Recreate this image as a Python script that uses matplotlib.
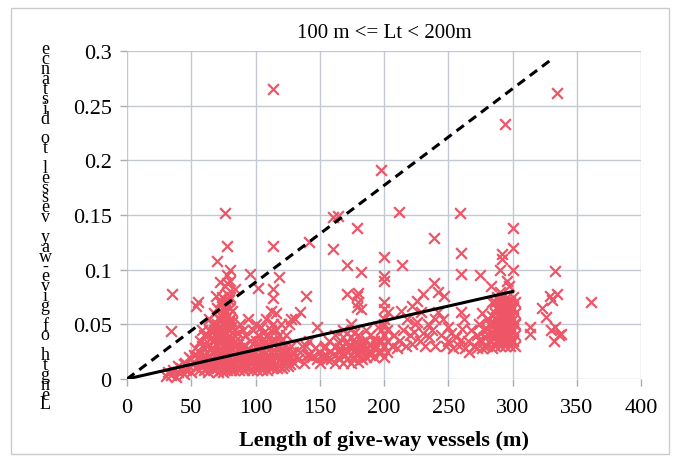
import matplotlib
matplotlib.use("Agg")
import matplotlib.pyplot as plt
import numpy as np

# ratio vs give-way vessel length (m), grouped by length band
band_short = [(30,0.003),(32,0.006),(34,0.004),(36,0.008),(38,0.002),(40,0.006),(42,0.01),(44,0.005),
              (46,0.008),(48,0.012),(50,0.006),(52,0.015),(54,0.01),(55,0.02),(56,0.025),(57,0.013),
              (58,0.03),(59,0.018),(60,0.022),(53,0.028),(57,0.035),(55,0.07),(35,0.078),(34,0.044),
              (48,0.02),(45,0.015),(60,0.04),(58,0.045),(54,0.067),(40,0.012),(44,0.014),(50,0.018),
              (52,0.022),(56,0.008),(58,0.012),(60,0.008),(60,0.015)]

band_60_95 = [(62,0.01),(62,0.02),(62,0.03),(62,0.04),
              (64,0.012),(64,0.022),(64,0.032),(64,0.045),(64,0.055),
              (66,0.01),(66,0.018),(66,0.028),(66,0.038),(66,0.05),
              (68,0.015),(68,0.025),(68,0.035),(68,0.045),(68,0.06),
              (70,0.01),(70,0.02),(70,0.03),(70,0.04),(70,0.05),(70,0.065),
              (72,0.014),(72,0.024),(72,0.034),(72,0.044),(72,0.054),(72,0.07),
              (74,0.01),(74,0.02),(74,0.03),(74,0.04),(74,0.05),(74,0.06),(74,0.075),
              (76,0.012),(76,0.022),(76,0.032),(76,0.042),(76,0.052),(76,0.062),(76,0.072),(76,0.085),
              (78,0.008),(78,0.018),(78,0.028),(78,0.038),(78,0.048),(78,0.058),(78,0.068),(78,0.078),
              (78,0.088),(78,0.095),
              (80,0.015),(80,0.025),(80,0.035),(80,0.045),(80,0.055),(80,0.065),(80,0.075),(80,0.09),(80,0.1),
              (82,0.012),(82,0.022),(82,0.032),(82,0.042),(82,0.052),(82,0.062),
              (84,0.015),(84,0.025),(84,0.035),(84,0.045),(84,0.082),
              (86,0.012),(86,0.022),(86,0.032),(86,0.042),
              (88,0.015),(88,0.025),(88,0.035),(88,0.05),
              (90,0.012),(90,0.02),(90,0.03),(90,0.045),
              (92,0.015),(92,0.025),(92,0.04),
              (94,0.018),(94,0.028),(94,0.055),
              (70,0.108),(72,0.089),(76,0.152),(78,0.122),(69,0.076),
              (63,0.006),(65,0.016),(67,0.024),(69,0.012),(69,0.032),(71,0.006),(71,0.026),(71,0.046),
              (73,0.008),(73,0.018),(73,0.038),(73,0.058),(75,0.006),(75,0.026),(75,0.046),(75,0.066),
              (77,0.016),(77,0.036),(77,0.056),(79,0.012),(79,0.032),(79,0.052),(79,0.072),
              (81,0.008),(81,0.028),(81,0.048),(83,0.008),(83,0.02),(83,0.04),(85,0.018),(85,0.03),
              (87,0.008),(87,0.028),(89,0.01),(89,0.022),(91,0.008),(91,0.018),(93,0.01),(93,0.022)]

band_95_160 = [(96,0.015),(96,0.025),(96,0.035),(96,0.096),
               (98,0.012),(98,0.022),(98,0.032),(98,0.045),
               (100,0.015),(100,0.025),(100,0.035),(100,0.05),
               (102,0.012),(102,0.02),(102,0.03),(102,0.04),(102,0.083),
               (104,0.015),(104,0.025),(104,0.035),(104,0.048),
               (106,0.012),(106,0.022),(106,0.032),(106,0.042),
               (108,0.015),(108,0.025),(108,0.035),(108,0.055),
               (110,0.012),(110,0.02),(110,0.03),(110,0.04),
               (112,0.015),(112,0.025),(112,0.035),(112,0.045),(112,0.062),
               (114,0.012),(114,0.022),(114,0.032),(114,0.05),(114,0.074),(114,0.082),(114,0.122),(114,0.265),
               (116,0.015),(116,0.025),(116,0.035),(116,0.045),(116,0.06),
               (118,0.012),(118,0.022),(118,0.03),(118,0.04),(118,0.093),
               (120,0.015),(120,0.025),(120,0.035),(120,0.05),
               (122,0.012),(122,0.02),(122,0.03),
               (124,0.015),(124,0.025),(124,0.04),
               (126,0.018),(126,0.028),(126,0.05),
               (128,0.02),(128,0.03),(128,0.055),
               (97,0.008),(99,0.018),(101,0.008),(103,0.018),(105,0.008),(107,0.018),(109,0.008),
               (111,0.018),(113,0.01),(115,0.02),(117,0.01),(119,0.018),(121,0.01),(123,0.018),
               (125,0.012),(127,0.014),(129,0.025),(130,0.015),
               (131,0.02),(131,0.055),(135,0.061),(135,0.025),(139,0.076),(139,0.03),(142,0.125),(142,0.022),
               (133,0.018),(136,0.03),(138,0.015),(140,0.022),(142,0.035),(144,0.02),(146,0.028),(148,0.048),
               (148,0.018),(150,0.025),(152,0.02),(154,0.03),(156,0.018),(158,0.025),(157,0.035),
               (150,0.015),(153,0.028),(155,0.022),(159,0.018),
               (160,0.148),(164,0.149),(160,0.119)]

band_160_240 = [(162,0.015),(162,0.022),(162,0.03),(162,0.04),
                (165,0.018),(165,0.025),(165,0.033),
                (168,0.015),(168,0.022),(168,0.03),(168,0.038),(168,0.045),
                (171,0.018),(171,0.026),(171,0.034),(171,0.042),(171,0.078),(171,0.104),
                (174,0.015),(174,0.022),(174,0.03),(174,0.038),(174,0.05),
                (177,0.018),(177,0.025),(177,0.033),(177,0.042),
                (179,0.076),(179,0.066),(179,0.138),(182,0.098),
                (180,0.016),(180,0.024),(180,0.032),(180,0.04),(180,0.07),(180,0.079),(182,0.064),
                (183,0.018),(183,0.026),(183,0.034),
                (186,0.02),(186,0.028),(186,0.036),(186,0.045),
                (189,0.022),(189,0.03),(189,0.04),
                (192,0.02),(192,0.028),(192,0.035),
                (195,0.025),(195,0.035),(195,0.048),
                (164,0.02),(166,0.028),(170,0.022),(172,0.03),(176,0.02),(178,0.028),(181,0.02),
                (184,0.03),(188,0.026),(191,0.024),(194,0.03),
                (198,0.025),(198,0.035),(198,0.045),(198,0.191),
                (200,0.02),(200,0.03),(200,0.04),(200,0.05),(200,0.055),(200,0.064),(200,0.07),
                (200,0.09),(200,0.094),(200,0.112),
                (202,0.025),(202,0.035),(202,0.045),(203,0.061),
                (206,0.03),(208,0.04),(210,0.028),(212,0.035),(212,0.153),(213,0.062),(214,0.104),
                (215,0.045),(217,0.03),(218,0.055),(220,0.04),(222,0.067),(222,0.032),(223,0.043),
                (224,0.05),(226,0.052),(226,0.071),(228,0.035),(229,0.061),(230,0.078),(230,0.042),
                (232,0.03),(234,0.05),(235,0.038),(237,0.045),(239,0.088),(239,0.129),(240,0.03),(240,0.055)]

band_240_300 = [(242,0.061),(242,0.08),(244,0.04),(246,0.055),(247,0.076),(248,0.03),(250,0.048),
                (250,0.035),(252,0.042),(254,0.028),(256,0.038),(259,0.152),(260,0.115),(260,0.096),
                (260,0.061),(262,0.055),(261,0.046),(260,0.036),(258,0.03),
                (263,0.028),(265,0.035),(266,0.025),(268,0.045),(270,0.03),(272,0.04),(274,0.05),
                (275,0.035),(276,0.06),(278,0.03),(278,0.045),(280,0.055),(281,0.04),(283,0.035),(284,0.07),
                (275,0.095),(283,0.085),(290,0.1),(297,0.085),
                (272,0.028),(274,0.036),(276,0.028),(278,0.038),(280,0.03),(280,0.046),(282,0.05),
                (284,0.028),(284,0.042),(284,0.058),
                (286,0.03),(286,0.04),(286,0.05),(286,0.06),(286,0.07),
                (288,0.035),(288,0.045),(288,0.055),(288,0.065),(288,0.075),
                (290,0.03),(290,0.04),(290,0.05),(290,0.06),(290,0.07),(290,0.08),
                (292,0.035),(292,0.045),(292,0.055),(292,0.065),(292,0.075),(292,0.11),(292,0.114),
                (294,0.03),(294,0.04),(294,0.05),(294,0.06),(294,0.07),(294,0.233),
                (296,0.035),(296,0.045),(296,0.055),(296,0.065),(296,0.075),(296,0.09),
                (298,0.03),(298,0.04),(298,0.05),(298,0.06),(298,0.07),
                (300,0.035),(300,0.045),(300,0.055),(300,0.065),(300,0.075),(300,0.1),(300,0.12),(300,0.138),
                (302,0.03),(302,0.04),(302,0.05),(302,0.06),(302,0.07),
                (287,0.035),(287,0.065),(289,0.05),(291,0.035),(291,0.065),(293,0.05),(295,0.035),
                (295,0.065),(297,0.05),(299,0.035),(299,0.065),(301,0.05)]

band_long = [(314,0.048),(314,0.041),(326,0.057),(329,0.076),(333,0.099),(333,0.048),(338,0.041),
             (332,0.035),(335,0.262),(361,0.070),(331,0.072),(335,0.078),(336,0.04),(323,0.065),(330,0.045)]

# reference lines through the origin
upper_line_x = [0, 330]
upper_line_y = [0, 0.292]
fit_line_x = [0, 300]
fit_line_y = [0, 0.08]

x_ticks = [0, 50, 100, 150, 200, 250, 300, 350, 400]
y_ticks = [0, 0.05, 0.1, 0.15, 0.2, 0.25, 0.3]
y_label = "Length of give-way vessel to distance"

pts = np.array(band_short + band_60_95 + band_95_160 + band_160_240 + band_240_300 + band_long)

plt.rcParams["font.family"] = ["Liberation Serif", "DejaVu Serif"]

fig = plt.figure(figsize=(6.78, 4.64), dpi=100)
ax = fig.add_axes([127/678, 84/464, 514/678, 328/464])

ax.scatter(pts[:, 0], pts[:, 1], marker="x", s=60, linewidths=1.6, color="#ee5567", clip_on=False, zorder=3)
ax.plot(upper_line_x, upper_line_y, color="black", lw=2.2, ls=(0, (3, 2)), zorder=4)
ax.plot(fit_line_x, fit_line_y, color="black", lw=2.2, zorder=4)

ax.set_xlim(0, 400)
ax.set_ylim(0, 0.3)
ax.set_xticks(x_ticks)
ax.set_yticks(y_ticks)
ax.set_xticklabels([str(v) for v in x_ticks])
ax.set_yticklabels(["0" if v == 0 else f"{v:g}" for v in y_ticks])
ax.tick_params(labelsize=16, color="#a8acb4", length=5, width=1, pad=6)
ax.tick_params(axis="x", pad=9)
ax.grid(True, color="#c4c8d0", lw=1)
for s in ax.spines.values():
    s.set_visible(False)
ax.set_axisbelow(True)

ax.set_title("100 m <= Lt < 200m", fontsize=15, pad=10)
ax.set_xlabel("Length of give-way vessels (m)", fontsize=16, fontweight="bold", labelpad=9)

# stacked y label, one char per step, read bottom to top
chars = y_label[::-1]
top, bottom = 1 - 50/464, 1 - 405/464
for i, c in enumerate(chars):
    if c == " ":
        continue
    y = top - i * (top - bottom) / (len(chars) - 1)
    fig.text(45/678, y, c, fontsize=13, ha="center", va="center")

# outer frame
fig.patches.append(plt.Rectangle((11/678, 9/464), 658/678, 446/464, transform=fig.transFigure,
                                 fill=False, ec="#c8ccd0", lw=1))

fig.savefig("out.png", dpi=100)
